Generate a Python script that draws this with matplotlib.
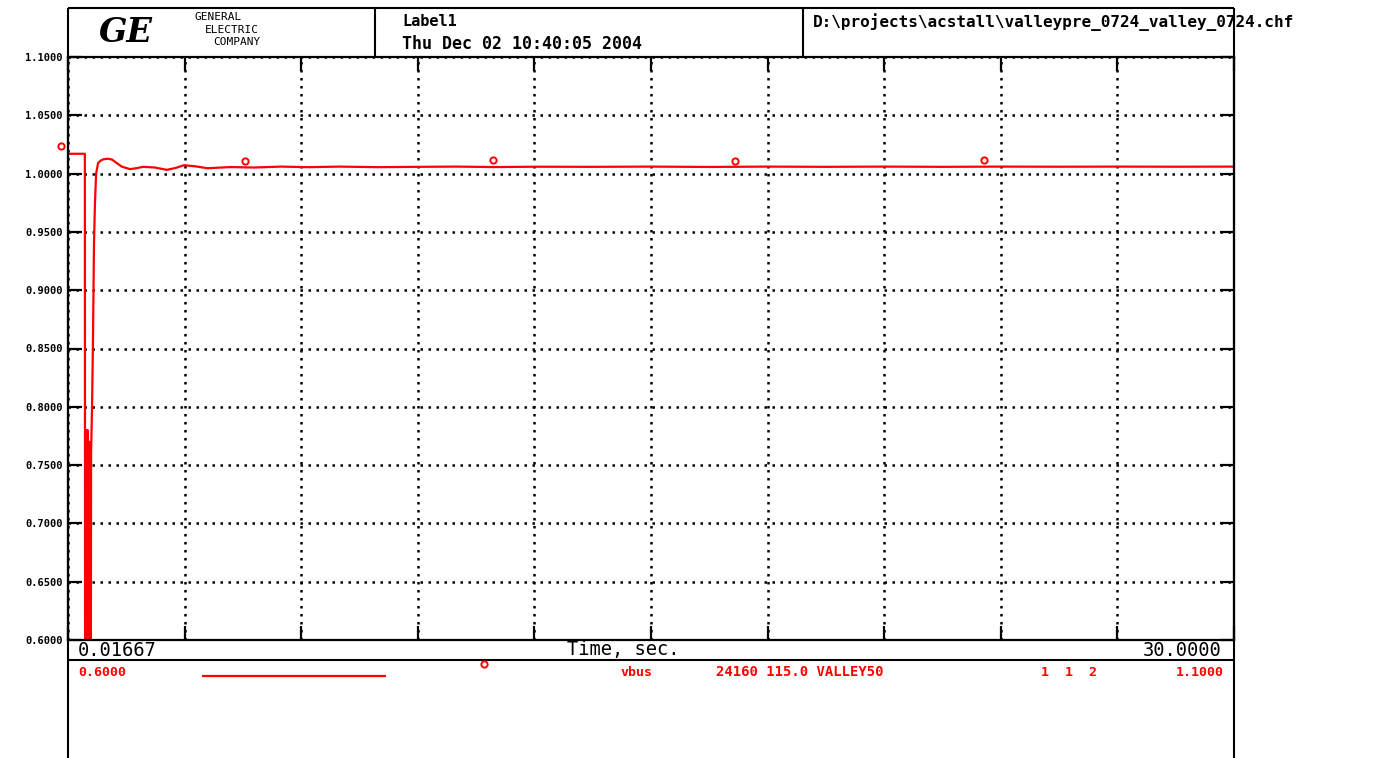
import matplotlib
matplotlib.use("Agg")
import matplotlib.pyplot as plt
from matplotlib.lines import Line2D

# vbus trace (pu)
time = [0.01667, 0.45, 0.46, 0.48, 0.49, 0.50, 0.51, 0.52, 0.53, 0.54, 0.55,
        0.56, 0.57, 0.58, 0.60, 0.61, 0.635, 0.66, 0.685, 0.71, 0.74, 0.79,
        0.85, 0.92, 1.05, 1.15, 1.25, 1.40, 1.61, 1.80, 1.95, 2.25, 2.56,
        2.80, 3.00, 3.30, 3.60, 4.20, 4.80, 5.50, 6.20, 7.00, 8.00, 9.00,
        10.0, 11.0, 12.0, 13.5, 15.0, 16.5, 18.0, 19.5, 21.0, 22.5, 24.0,
        25.5, 27.0, 28.5, 30.0]
vbus = [1.0170, 1.0170, 0.30, 0.78, 0.30, 0.77, 0.30, 0.78, 0.30, 0.76, 0.30,
        0.77, 0.30, 0.35, 0.40, 0.76, 0.80, 0.86, 0.94, 0.975, 1.000, 1.009,
        1.011, 1.0122, 1.0128, 1.0120, 1.0095, 1.0060, 1.0038, 1.0048, 1.0058,
        1.0052, 1.0032, 1.0050, 1.0072, 1.0062, 1.0046, 1.0056, 1.0052, 1.0060,
        1.0055, 1.0060, 1.0055, 1.0058, 1.0060, 1.0056, 1.0059, 1.0058, 1.0060,
        1.0057, 1.0060, 1.0058, 1.0060, 1.0058, 1.0060, 1.0059, 1.0060, 1.0059,
        1.0060]

# curve identification markers
mark_t = [-0.163, 4.57, 10.95, 17.17, 23.57]
mark_v = [1.0238, 1.0110, 1.0116, 1.0112, 1.0116]

y_ticks = [0.60, 0.65, 0.70, 0.75, 0.80, 0.85, 0.90, 0.95, 1.00, 1.05, 1.10]
t_min, t_max = 0.01667, 30.0
y_min, y_max = 0.6, 1.1

W, H = 1398, 758
RED = "#ff0000"
MONO = "DejaVu Sans Mono"

fig = plt.figure(figsize=(W / 100, H / 100), dpi=100)


def fx(px):
    return px / W


def fy(py):
    return 1 - py / H


def fline(x0, y0, x1, y1, color="black", lw=1.5):
    fig.add_artist(Line2D([fx(x0), fx(x1)], [fy(y0), fy(y1)], color=color,
                          lw=lw, transform=fig.transFigure, solid_capstyle="butt"))


ax = fig.add_axes([fx(68), fy(640), fx(1234) - fx(68), fy(57) - fy(640)])
ax.plot(time, vbus, color=RED, lw=1.6)
ax.plot(mark_t, mark_v, ls="none", marker="o", ms=4.5, mfc="none",
        mec=RED, mew=1.4, clip_on=False)

ax.set_xlim(t_min, t_max)
ax.set_ylim(y_min, y_max)
step = (t_max - t_min) / 10
ax.set_xticks([t_min + i * step for i in range(11)])
ax.set_xticklabels([])
ax.set_yticks(y_ticks)
ax.set_yticklabels([f"{v:.4f}" for v in y_ticks], fontsize=7.5,
                   family=MONO, fontweight="bold")
ax.tick_params(axis="both", direction="in", length=10, width=1.6,
               top=True, right=True, pad=4)
ax.grid(True, color="black", ls=(0, (1, 2.2)), lw=1.8)
for s in ax.spines.values():
    s.set_linewidth(1.6)

# frame around plot, header and footer
fline(68, 8, 1234, 8)
fline(68, 8, 68, 758)
fline(1234, 8, 1234, 758)
fline(375, 8, 375, 57)
fline(803, 8, 803, 57)
fline(68, 660, 1234, 660)

# header
fig.text(fx(126), fy(32), "GE", fontsize=24, family="DejaVu Serif",
         style="italic", fontweight="bold", ha="center", va="center")
fig.text(fx(195), fy(17), "GENERAL", fontsize=8, family=MONO, va="center")
fig.text(fx(205), fy(30), "ELECTRIC", fontsize=8, family=MONO, va="center")
fig.text(fx(213), fy(42), "COMPANY", fontsize=8, family=MONO, va="center")
fig.text(fx(402), fy(22), "Label1", fontsize=11, family=MONO,
         fontweight="bold", va="center")
fig.text(fx(402), fy(44), "Thu Dec 02 10:40:05 2004", fontsize=12,
         family=MONO, fontweight="bold", va="center")
fig.text(fx(813), fy(22), r"D:\projects\acstall\valleypre_0724_valley_0724.chf",
         fontsize=11.5, family=MONO, fontweight="bold", va="center")

# time axis row
fig.text(fx(78), fy(650), "0.01667", fontsize=13.5, family=MONO, va="center")
fig.text(fx(623), fy(650), "Time, sec.", fontsize=13.5, family=MONO,
         ha="center", va="center")
fig.text(fx(1222), fy(650), "30.0000", fontsize=13.5, family=MONO,
         ha="right", va="center")

# legend row
fig.text(fx(78), fy(672), "0.6000", fontsize=9.5, family=MONO,
         fontweight="bold", color=RED, va="center")
fline(202, 676, 386, 676, color=RED, lw=1.6)
fig.add_artist(Line2D([fx(484)], [fy(664)], ls="none", marker="o", ms=4.5,
                      mfc="none", mec=RED, mew=1.4, transform=fig.transFigure))
fig.text(fx(620), fy(673), "vbus", fontsize=9.5, family=MONO,
         fontweight="bold", color=RED, va="center")
fig.text(fx(716), fy(672), "24160 115.0 VALLEY50", fontsize=10, family=MONO,
         fontweight="bold", color=RED, va="center")
fig.text(fx(1041), fy(672), "1  1  2", fontsize=9.5, family=MONO,
         fontweight="bold", color=RED, va="center")
fig.text(fx(1224), fy(672), "1.1000", fontsize=9.5, family=MONO,
         fontweight="bold", color=RED, ha="right", va="center")

fig.savefig("out.png", dpi=100)
